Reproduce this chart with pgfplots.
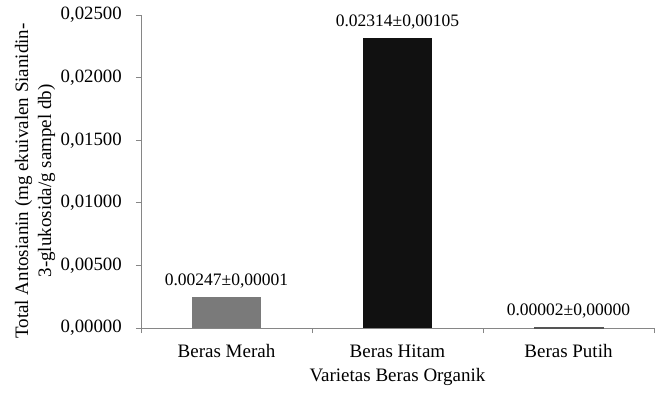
\documentclass[border=0pt]{standalone}
\usepackage{pgfplots}
\pgfplotsset{compat=1.18}
\usepackage{fontspec}
\setmainfont{Liberation Serif}
\definecolor{axgray}{HTML}{868686}
\definecolor{barA}{HTML}{7A7A7A}
\definecolor{barB}{HTML}{111111}
\definecolor{barC}{HTML}{555555}
\begin{document}
\begin{tikzpicture}
\begin{axis}[
  name=ax,
  scale only axis,
  width=513pt, height=313pt,
  xmin=-0.5, xmax=2.5,
  ymin=0, ymax=0.025,
  axis x line*=bottom, axis y line*=left,
  axis line style={draw=axgray, line width=0.8pt},
  tick style={draw=axgray, line width=0.8pt},
  tick align=outside,
  major tick length=5pt,
  xtick={-0.5,0.5,1.5,2.5},
  xticklabels={},
  extra x ticks={0,1,2},
  extra x tick labels={Beras Merah,Beras Hitam,Beras Putih},
  extra x tick style={major tick length=0pt, xticklabel style={anchor=base, yshift=-29pt}},
  ytick={0,0.005,0.01,0.015,0.02,0.025},
  scaled y ticks=false,
  /pgf/number format/fixed, /pgf/number format/fixed zerofill, /pgf/number format/precision=5, /pgf/number format/use comma, /pgf/number format/assume math mode=true,
  yticklabel style={inner sep=0pt, xshift=-14pt, font=\fontsize{18.8}{22}\selectfont},
  xticklabel style={font=\fontsize{19}{22}\selectfont, inner sep=0pt},
  xlabel={Varietas Beras Organik},
  xlabel style={at={(axis description cs:0.5,0)}, anchor=base, yshift=-53pt, font=\fontsize{19}{22}\selectfont},
  ylabel={Total Antosianin (mg ekuivalen Sianidin-\\3-glukosida/g sampel db)},
  ylabel style={at={(axis description cs:-0.1670,0.470)}, anchor=south, inner sep=0pt, align=center, font=\fontsize{19}{23}\selectfont},
  ybar, bar width=69pt, bar shift=0pt,
  nodes near coords,
  point meta=explicit symbolic,
  every node near coord/.append style={anchor=south, inner sep=0pt, yshift=9pt, font=\fontsize{17.5}{20}\selectfont, text=black},
  clip=false,
]
\addplot[draw=none, fill=barA] coordinates {(0,0.00247) [0.00247±0,00001]};
\addplot[draw=none, fill=barB] coordinates {(1,0.02314) [0.02314±0,00105]};
\addplot[draw=barC, line width=0.6pt, fill=barC] coordinates {(2,0.00002) [0.00002±0,00000]};
\end{axis}
\path[use as bounding box] ([shift={(-141pt,-64pt)}]ax.south west) rectangle ([shift={(18pt,15pt)}]ax.north east);
\end{tikzpicture}
\end{document}
